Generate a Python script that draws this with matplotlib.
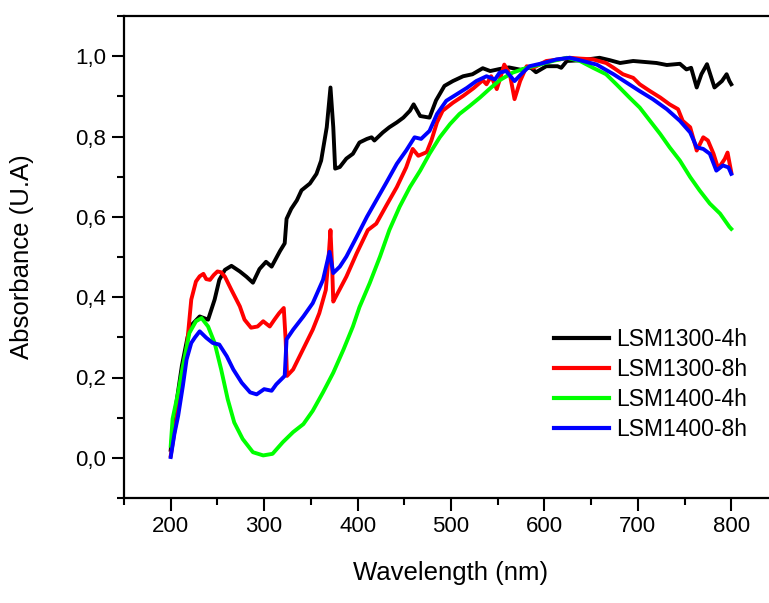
import matplotlib
matplotlib.use("Agg")
import matplotlib.pyplot as plt
from matplotlib.ticker import MultipleLocator, FuncFormatter

plt.rcParams['font.family'] = ['Liberation Sans', 'DejaVu Sans']

# LSM1300-4h
wl_1300_4h = [200, 205, 212, 218, 222, 231, 240, 247, 252, 258, 265, 274, 281, 288, 295, 302, 308,
              317, 322, 324, 329, 335, 340, 349, 356, 361, 367, 371, 374, 376, 381, 388, 395, 402,
              410, 415, 418, 427, 434, 442, 449, 456, 460, 467, 477, 484, 493, 502, 513, 523, 534,
              542, 552, 562, 575, 585, 591, 602, 614, 618, 624, 640, 659, 670, 681, 695, 705, 720,
              731, 745, 752, 757, 763, 768, 774, 782, 790, 795, 798, 800]
abs_1300_4h = [0.02, 0.12, 0.23, 0.30, 0.33, 0.352, 0.344, 0.394, 0.443, 0.468, 0.478, 0.464, 0.451,
               0.436, 0.470, 0.488, 0.476, 0.515, 0.534, 0.595, 0.620, 0.641, 0.666, 0.683, 0.707,
               0.740, 0.823, 0.922, 0.823, 0.720, 0.724, 0.745, 0.757, 0.785, 0.794, 0.798, 0.790,
               0.810, 0.823, 0.835, 0.847, 0.864, 0.880, 0.851, 0.847, 0.890, 0.926, 0.938, 0.950,
               0.955, 0.970, 0.963, 0.968, 0.972, 0.966, 0.972, 0.960, 0.975, 0.975, 0.971, 0.988,
               0.990, 0.996, 0.990, 0.983, 0.988, 0.986, 0.983, 0.978, 0.981, 0.967, 0.971, 0.922,
               0.955, 0.980, 0.922, 0.938, 0.955, 0.938, 0.930]

# LSM1300-8h
wl_1300_8h = [200, 205, 210, 217, 222, 227, 231, 235, 238, 242, 246, 250, 254, 258, 265, 274, 279,
              286, 293, 299, 306, 311, 316, 321, 323, 324.5, 331, 338, 345, 352, 359, 366, 369, 371,
              373, 374, 376, 388, 399, 411, 420, 431, 442, 452, 459, 465, 474, 479, 485, 491, 502,
              513, 524, 534, 538, 543, 549, 552, 557, 563, 568, 574, 581, 588, 602, 616, 627, 638,
              652, 666, 674, 684, 695, 702, 713, 724, 734, 743, 748, 756, 763, 770, 775, 781, 786,
              793, 796, 799, 800]
abs_1300_8h = [0.005, 0.08, 0.15, 0.27, 0.394, 0.439, 0.452, 0.458, 0.445, 0.443, 0.455, 0.464, 0.462,
               0.451, 0.418, 0.377, 0.344, 0.324, 0.327, 0.340, 0.327, 0.344, 0.360, 0.373, 0.295,
               0.204, 0.220, 0.253, 0.286, 0.319, 0.360, 0.418, 0.500, 0.567, 0.460, 0.389, 0.398,
               0.451, 0.509, 0.567, 0.583, 0.629, 0.674, 0.723, 0.769, 0.752, 0.761, 0.790, 0.835,
               0.864, 0.884, 0.901, 0.920, 0.940, 0.930, 0.950, 0.918, 0.940, 0.979, 0.955, 0.893,
               0.938, 0.975, 0.971, 0.988, 0.992, 0.996, 0.994, 0.992, 0.983, 0.971, 0.955, 0.946,
               0.930, 0.913, 0.897, 0.880, 0.868, 0.839, 0.823, 0.765, 0.798, 0.790, 0.757, 0.720,
               0.744, 0.760, 0.723, 0.711]

# LSM1400-4h
wl_1400_4h = [200, 202, 208, 213, 220, 227, 233, 240, 247, 254, 261, 268, 277, 288, 299, 309, 320,
              331, 342, 352, 363, 374, 385, 395, 402, 413, 424, 434, 445, 456, 467, 477, 488, 499,
              509, 520, 531, 541, 552, 566, 581, 595, 609, 624, 638, 652, 666, 677, 691, 702, 713,
              724, 734, 745, 756, 766, 777, 788, 798, 800]
abs_1400_4h = [0.03, 0.097, 0.163, 0.228, 0.311, 0.340, 0.348, 0.327, 0.286, 0.220, 0.146, 0.088,
               0.047, 0.014, 0.006, 0.010, 0.039, 0.064, 0.084, 0.117, 0.163, 0.212, 0.270, 0.327,
               0.375, 0.435, 0.501, 0.567, 0.625, 0.674, 0.715, 0.757, 0.798, 0.831, 0.856, 0.876,
               0.897, 0.918, 0.940, 0.959, 0.971, 0.979, 0.988, 0.996, 0.988, 0.971, 0.955, 0.930,
               0.897, 0.872, 0.839, 0.806, 0.773, 0.740, 0.699, 0.666, 0.633, 0.608, 0.575, 0.570]

# LSM1400-8h
wl_1400_8h = [200, 204, 208, 213, 217, 222, 226, 231, 238, 245, 252, 260, 267, 276, 285, 292, 300,
              308, 313, 322, 324, 331, 342, 352, 363, 370, 374, 381, 388, 399, 410, 420, 431, 442,
              452, 461, 468, 477, 485, 495, 506, 517, 527, 538, 547, 552, 559, 568, 575, 584, 599,
              613, 627, 641, 656, 674, 688, 702, 716, 731, 745, 756, 763, 770, 777, 784, 791, 797,
              800]
abs_1400_8h = [0.002, 0.06, 0.105, 0.179, 0.245, 0.286, 0.300, 0.315, 0.299, 0.286, 0.282, 0.253,
               0.220, 0.187, 0.163, 0.158, 0.171, 0.167, 0.183, 0.204, 0.295, 0.319, 0.352, 0.385,
               0.443, 0.513, 0.460, 0.476, 0.501, 0.550, 0.600, 0.641, 0.686, 0.732, 0.765, 0.798,
               0.794, 0.814, 0.856, 0.889, 0.905, 0.921, 0.938, 0.950, 0.942, 0.959, 0.963, 0.938,
               0.955, 0.975, 0.983, 0.992, 0.996, 0.988, 0.979, 0.955, 0.934, 0.913, 0.893, 0.868,
               0.839, 0.810, 0.773, 0.769, 0.757, 0.715, 0.728, 0.723, 0.707]

labels = ["LSM1300-4h", "LSM1300-8h", "LSM1400-4h", "LSM1400-8h"]
colors = ["#000000", "#FF0000", "#00FF00", "#0000FF"]
series = [(wl_1300_4h, abs_1300_4h), (wl_1300_8h, abs_1300_8h),
          (wl_1400_4h, abs_1400_4h), (wl_1400_8h, abs_1400_8h)]

W, H = 769, 603
fig = plt.figure(figsize=(W / 100, H / 100), dpi=100)
ax = fig.add_axes([124 / W, 105 / H, 654 / W, 482 / H])

for (x, y), lab, c in zip(series, labels, colors):
    ax.plot(x, y, color=c, lw=2.8, label=lab, solid_joinstyle='round')

ax.set_xlim(150, 850)
ax.set_ylim(-0.1, 1.1)
ax.xaxis.set_major_locator(MultipleLocator(100))
ax.xaxis.set_minor_locator(MultipleLocator(50))
ax.yaxis.set_major_locator(MultipleLocator(0.2))
ax.yaxis.set_minor_locator(MultipleLocator(0.1))
ax.yaxis.set_major_formatter(FuncFormatter(lambda v, p: f"{v:.1f}".replace('.', ',').replace('-0,0', '0,0')))

for s in ax.spines.values():
    s.set_linewidth(1.6)
ax.tick_params(which='major', direction='out', length=9, width=1.5, labelsize=16, pad=4)
ax.tick_params(which='minor', direction='out', length=5, width=1.5)
ax.tick_params(axis='y', which='both', right=False)
ax.tick_params(axis='x', which='both', top=False)

ax.set_xlabel("Wavelength (nm)", fontsize=18.5)
ax.set_ylabel("Absorbance (U.A)", fontsize=18.5)
ax.xaxis.set_label_coords(0.5, -0.13)
ax.yaxis.set_label_coords(-0.137, 0.5)

leg = ax.legend(loc='upper left', bbox_to_anchor=(554 / W, 1 - 328 / H),
                bbox_transform=fig.transFigure, frameon=False, fontsize=16.5,
                handlelength=2.4, handletextpad=0.3, labelspacing=0.31,
                borderpad=0, borderaxespad=0)
for line in leg.get_lines():
    line.set_linewidth(3)

fig.savefig("out.png", dpi=100)
